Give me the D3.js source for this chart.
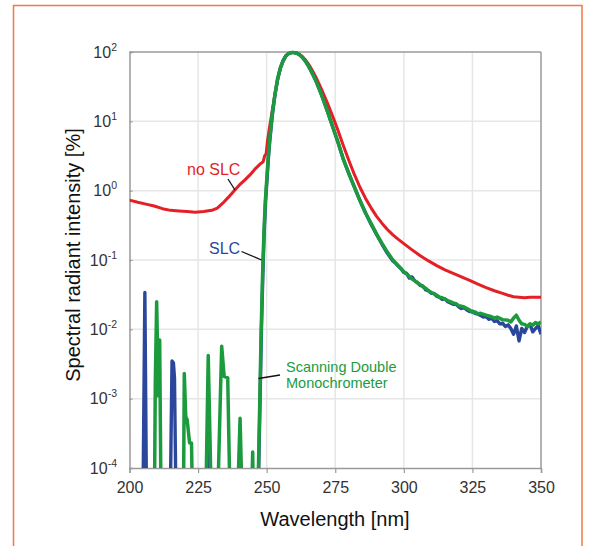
<!DOCTYPE html>
<html><head><meta charset="utf-8">
<script src="https://cdn.jsdelivr.net/npm/d3@7"></script>
<style>html,body{margin:0;padding:0;background:#fff;}svg{display:block;}</style>
</head><body>
<svg id="chart" width="589" height="546"></svg>
<script>
// ---------- data ----------
const xTicks = [200, 225, 250, 275, 300, 325, 350];
const yTickExps = [2, 1, 0, -1, -2, -3, -4];

// "no SLC" (red) : [wavelength nm, intensity %]
const noSlc = [[200,0.73],[203,0.68],[206,0.64],[209,0.6],[212,0.55],[215,0.52],[218,0.51],[221,0.5],[224,0.49],[227,0.5],[230,0.52],[232,0.56],[234,0.66],[236,0.8],[238,0.98],[240,1.2],[242,1.42],[244,1.7],[246,2.1],[247.5,2.4],[248.7,2.6],[249.3,3.2],[249.8,3.4],[250.3,5.2],[251,8],[252,14],[253,24],[254,40],[255,58],[256,74],[257,87],[258,95],[259,98],[260,98.5],[261,96],[262,92],[263,86],[264,78],[265,69],[266,60],[267,51],[268,43],[270,29],[272,19],[274,12],[276,7.4],[278,4.4],[280,2.7],[282,1.7],[284,1.12],[286,0.78],[288,0.57],[290,0.43],[292,0.34],[294,0.275],[296,0.23],[298,0.198],[300,0.172],[303,0.14],[306,0.115],[309,0.097],[312,0.083],[315,0.072],[318,0.064],[321,0.057],[324,0.051],[327,0.045],[330,0.04],[333,0.036],[336,0.033],[338,0.031],[340,0.0295],[342,0.029],[344,0.0285],[346,0.029],[348,0.029],[350,0.029]];

// "SLC" (blue)
const slc = [[204.8,1e-5],[205.6,0.034],[206.3,1e-5],[214.7,1e-5],[215.5,0.0035],[216.0,0.0033],[216.4,0.002],[217.1,1e-5],[228.4,1e-5],[228.8,0.00038],[229.2,1e-5],[246.7,1e-5],[247.1,1e-4],[247.6,0.001],[248.1,0.01],[248.6,0.06],[249.1,0.25],[249.6,0.7],[250.1,1.4],[250.6,2.8],[251.1,5],[251.6,8],[252.1,12.5],[253,24],[254,41],[255,59],[256,75],[257,88],[258,95],[259,98],[260,98],[261,96],[262,91],[263,84],[264,75],[265,65],[266,55],[267,46],[268,38],[270,24],[272,14.5],[274,8.5],[276,5],[278,2.8],[280,1.75],[282,1.12],[284,0.72],[286,0.48],[288,0.33],[290,0.235],[292,0.17],[294,0.125],[296,0.097],[297,0.09],[298,0.082],[299,0.075],[300,0.066],[301,0.064],[302,0.055],[303,0.057],[304,0.05],[305,0.047],[306,0.043],[307,0.042],[308,0.037],[309,0.036],[310,0.033],[311,0.033],[312,0.03],[313,0.029],[314,0.027],[315,0.0275],[316,0.025],[317,0.024],[318,0.023],[319,0.023],[320,0.0212],[321,0.02],[322,0.0205],[323,0.019],[324,0.018],[325,0.0183],[326,0.017],[327,0.0166],[328,0.0158],[329,0.015],[330,0.0153],[331,0.014],[332,0.0146],[333,0.013],[334,0.0133],[335,0.012],[336,0.0123],[337,0.011],[338,0.0116],[339,0.0103],[340,0.0085],[341,0.0112],[342,0.0068],[343,0.0103],[344,0.009],[345,0.011],[346,0.0118],[347,0.0092],[348,0.0103],[349,0.0113],[350,0.0085]];

// "Scanning Double Monochrometer" (green)
const sdm = [[209.0,1e-5],[209.4,0.0017],[209.9,0.025],[210.2,0.006],[210.4,0.0011],[210.6,0.007],[211.0,0.007],[211.6,1e-5],[219.6,1e-5],[219.97,0.0023],[220.5,0.00055],[221.0,0.0005],[221.9,0.00023],[222.6,0.00023],[223.2,1e-5],[227.6,1e-5],[228.7,0.0042],[230.1,1e-5],[231.8,1e-5],[233.6,0.0057],[234.5,0.0021],[235.8,0.002],[236.9,1e-5],[239.0,1e-5],[240.3,0.00052],[241.4,1e-5],[244.2,1e-5],[244.9,0.00017],[245.4,1e-5],[246.6,1e-5],[247.0,1e-4],[247.5,0.001],[248.0,0.01],[248.5,0.06],[249,0.25],[249.5,0.7],[250,1.4],[250.5,2.8],[251,5],[251.5,8],[252,12.5],[253,24],[254,41],[255,59],[256,75],[257,88],[258,95],[259,98],[260,98],[261,96],[262,91],[263,84],[264,75],[265,65],[266,55],[267,46],[268,38],[270,24],[272,14.5],[274,8.5],[276,5],[278,2.8],[280,1.75],[282,1.12],[284,0.72],[286,0.48],[288,0.34],[290,0.24],[292,0.175],[294,0.13],[296,0.1],[298,0.082],[300,0.068],[301,0.063],[302,0.058],[303,0.053],[304,0.05],[305,0.047],[306,0.044],[307,0.041],[308,0.039],[309,0.036],[310,0.034],[312,0.031],[313,0.029],[314,0.0285],[316,0.026],[318,0.024],[319,0.0235],[320,0.022],[321,0.0215],[322,0.021],[324,0.019],[325,0.0175],[326,0.0178],[327,0.0168],[328,0.017],[330,0.016],[332,0.0152],[333,0.0145],[334,0.015],[336,0.0138],[338,0.0135],[339,0.0128],[340,0.0145],[341,0.016],[342,0.0135],[343,0.012],[344,0.0118],[345,0.011],[346,0.012],[347,0.0115],[348,0.0125],[349,0.012],[350,0.0128]];

// ---------- drawing ----------
const svg = d3.select("#chart");
const pLeft = 129.5, pRight = 541, pTop = 52, pBottom = 468;
const RED = "#e41f26", BLUE = "#2b479b", GREEN = "#1c9b3e";
const FONT = "'Liberation Sans', Arial, sans-serif";

// outer orange frame
svg.append("rect").attr("x", 13.5).attr("y", 5.5).attr("width", 568.5).attr("height", 560)
  .attr("fill", "#fff").attr("stroke", "#ef7a45").attr("stroke-width", 1.5);

const x = d3.scaleLinear().domain([200, 350]).range([pLeft, pRight]);
const y = d3.scaleLog().domain([1e-4, 1e2]).range([pBottom, pTop]);

// gridlines
const grid = svg.append("g").attr("stroke", "#e6e6e6").attr("stroke-width", 1.5);
xTicks.slice(1, -1).forEach(t => grid.append("line").attr("x1", x(t)).attr("x2", x(t)).attr("y1", pTop).attr("y2", pBottom));
yTickExps.slice(1, -1).forEach(e => grid.append("line").attr("x1", pLeft).attr("x2", pRight).attr("y1", y(Math.pow(10, e))).attr("y2", y(Math.pow(10, e))));

// axes via d3
const xAxis = d3.axisBottom(x).tickValues(xTicks).tickSize(5).tickFormat(d3.format("d"));
const gx = svg.append("g").attr("transform", `translate(0,${pBottom})`).call(xAxis);
gx.select(".domain").attr("stroke", "#9a9a9a").attr("stroke-width", 1.5);
gx.selectAll(".tick line").attr("stroke", "#9a9a9a").attr("stroke-width", 1.2);
gx.selectAll(".tick text").attr("font-family", FONT).attr("font-size", 16).attr("fill", "#333").attr("dy", "1.05em");

const yAxis = d3.axisLeft(y).tickValues(yTickExps.map(e => Math.pow(10, e))).tickSize(-3).tickFormat("");
const gy = svg.append("g").attr("transform", `translate(${pLeft},0)`).call(yAxis);
gy.select(".domain").attr("stroke", "#9a9a9a").attr("stroke-width", 1.5);
gy.selectAll(".tick line").attr("stroke", "#9a9a9a").attr("stroke-width", 1.2);

// top & right frame
svg.append("line").attr("x1", pLeft).attr("x2", pRight).attr("y1", pTop).attr("y2", pTop).attr("stroke", "#9a9a9a").attr("stroke-width", 1.5);
svg.append("line").attr("x1", pRight).attr("x2", pRight).attr("y1", pTop).attr("y2", pBottom).attr("stroke", "#9a9a9a").attr("stroke-width", 1.5);

// y tick labels 10^n
yTickExps.forEach(e => {
  const t = svg.append("text").attr("x", 117).attr("y", y(Math.pow(10, e)) + 5.5)
    .attr("text-anchor", "end").attr("font-family", FONT).attr("font-size", 16).attr("fill", "#333");
  t.append("tspan").text("10");
  t.append("tspan").attr("font-size", 10.5).attr("dy", -7).text(String(e));
});

// axis titles
svg.append("text").attr("x", 335).attr("y", 526).attr("text-anchor", "middle")
  .attr("font-family", FONT).attr("font-size", 20).attr("fill", "#111").text("Wavelength [nm]");
svg.append("text").attr("transform", "translate(80,255) rotate(-90)").attr("text-anchor", "middle")
  .attr("font-family", FONT).attr("font-size", 20).attr("fill", "#111").text("Spectral radiant intensity [%]");

// clip
svg.append("clipPath").attr("id", "plotclip").append("rect")
  .attr("x", pLeft).attr("y", pTop - 4).attr("width", pRight - pLeft).attr("height", pBottom - pTop + 4);

const line = d3.line().x(d => x(d[0])).y(d => y(d[1]));
const plot = svg.append("g").attr("clip-path", "url(#plotclip)");
plot.append("path").datum(noSlc).attr("d", line).attr("fill", "none").attr("stroke", RED).attr("stroke-width", 3).attr("stroke-linejoin", "round");
plot.append("path").datum(slc).attr("d", line).attr("fill", "none").attr("stroke", BLUE).attr("stroke-width", 3.4).attr("stroke-linejoin", "round");
plot.append("path").datum(sdm).attr("d", line).attr("fill", "none").attr("stroke", GREEN).attr("stroke-width", 3.5).attr("stroke-linejoin", "round");

// annotations
svg.append("line").attr("x1", 228).attr("y1", 179).attr("x2", 235).attr("y2", 190).attr("stroke", "#111").attr("stroke-width", 1.3);
svg.append("text").attr("x", 187).attr("y", 174.5).attr("font-family", FONT).attr("font-size", 16).attr("fill", RED).text("no SLC");

svg.append("line").attr("x1", 241.5).attr("y1", 251.5).attr("x2", 261.5).attr("y2", 260).attr("stroke", "#111").attr("stroke-width", 1.3);
svg.append("text").attr("x", 209).attr("y", 253.5).attr("font-family", FONT).attr("font-size", 16).attr("fill", BLUE).text("SLC");

svg.append("line").attr("x1", 280).attr("y1", 375).attr("x2", 258.5).attr("y2", 378.5).attr("stroke", "#111").attr("stroke-width", 1.3);
svg.append("text").attr("x", 286).attr("y", 372).attr("font-family", FONT).attr("font-size", 14.5).attr("fill", GREEN).text("Scanning Double");
svg.append("text").attr("x", 286).attr("y", 388).attr("font-family", FONT).attr("font-size", 14.5).attr("fill", GREEN).text("Monochrometer");
</script>
</body></html>
